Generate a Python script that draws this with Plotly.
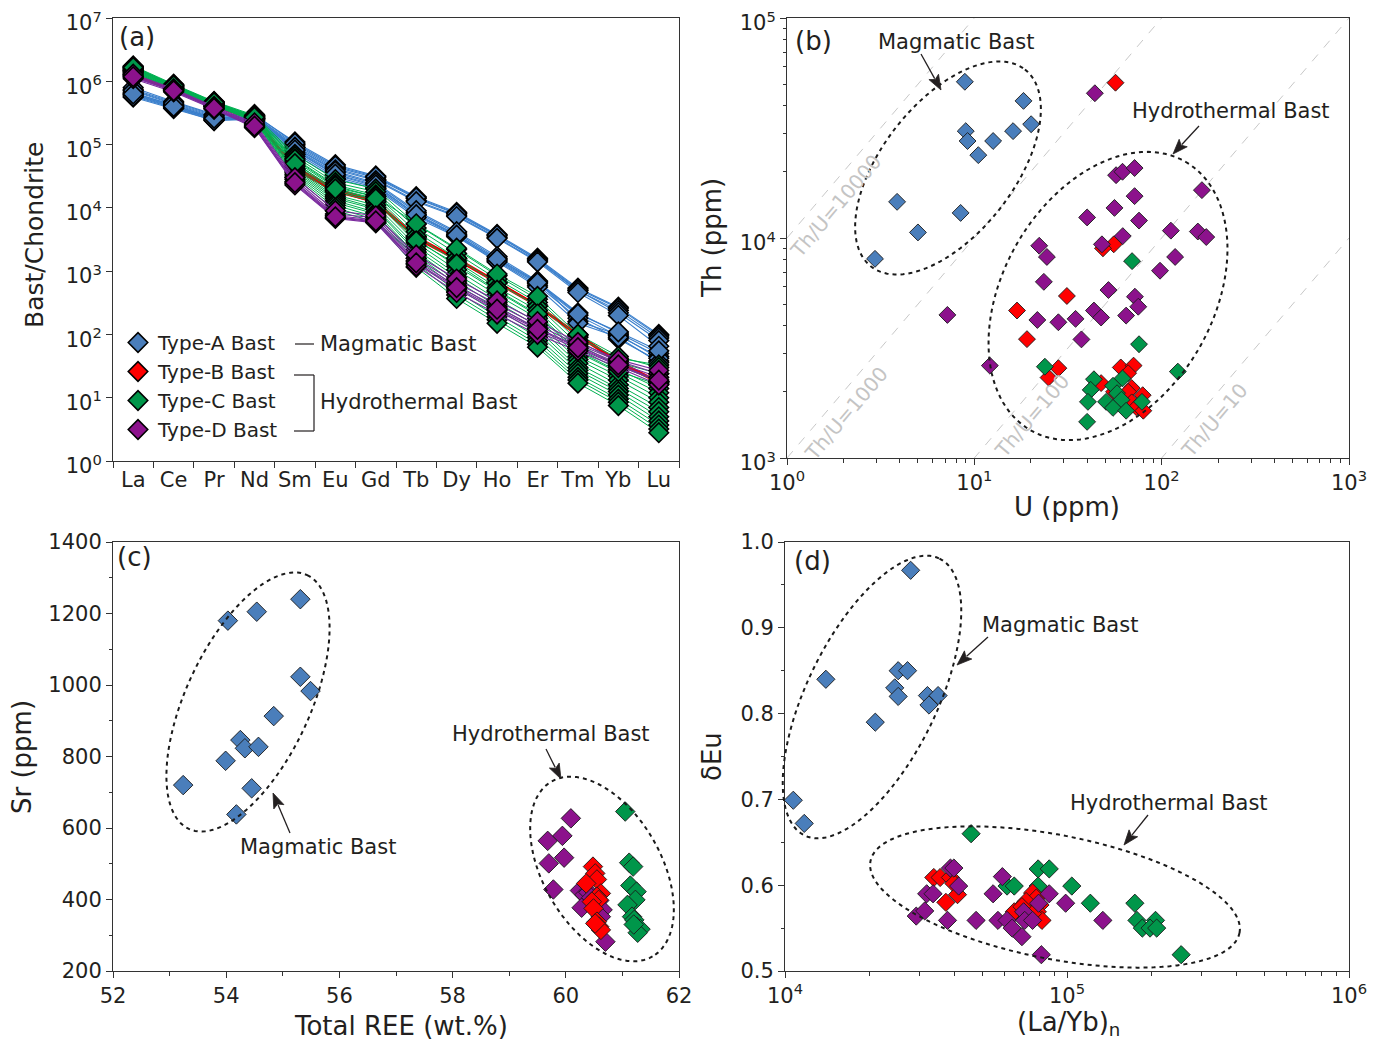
import numpy as np
import plotly.graph_objects as go

W, H = 1381, 1050          # browser window
OFF = 8                    # page body margin
FW, FH = W - 2 * OFF, H - 2 * OFF   # figure size
FONT = "DejaVu Sans, Liberation Sans, Arial, sans-serif"
TXT = "#231f20"
AX = "#333333"
TICK_FS = 21
ANN_FS = 21
TITLE_FS = 26

# ---------------- Panel (a): chondrite-normalised REE patterns ----------------
ELEMENTS = ["La", "Ce", "Pr", "Nd", "Sm", "Eu", "Gd", "Tb", "Dy", "Ho", "Er", "Tm", "Yb", "Lu"]

REE_A = [
    [7.5e5, 4.6e5, 2.9e5, 2.9e5, 1.1e5, 4.8e4, 3.2e4, 1.5e4, 8.5e3, 3.8e3, 1.6e3, 5.4e2, 2.7e2, 1.0e2],
    [7.0e5, 4.3e5, 2.7e5, 2.8e5, 1.0e5, 4.4e4, 3.0e4, 1.4e4, 8.0e3, 3.6e3, 1.55e3, 5.2e2, 2.6e2, 9.5e1],
    [6.6e5, 4.1e5, 2.6e5, 2.7e5, 9.5e4, 4.2e4, 2.8e4, 1.3e4, 7.6e3, 3.4e3, 1.45e3, 4.9e2, 2.4e2, 8.8e1],
    [8.0e5, 4.8e5, 3.0e5, 3.0e5, 1.05e5, 4.6e4, 3.1e4, 1.45e4, 8.2e3, 3.7e3, 1.5e3, 5.0e2, 2.2e2, 8.0e1],
    [6.2e5, 4.0e5, 2.5e5, 2.6e5, 9.0e4, 4.0e4, 2.7e4, 1.25e4, 7.3e3, 3.3e3, 1.4e3, 4.6e2, 2.0e2, 6.5e1],
    [6.5e5, 4.2e5, 2.6e5, 2.9e5, 8.5e4, 3.6e4, 2.4e4, 8.5e3, 4.0e3, 1.6e3, 6.8e2, 2.2e2, 1.05e2, 5.0e1],
    [6.0e5, 3.9e5, 2.5e5, 2.7e5, 8.0e4, 3.3e4, 2.2e4, 8.0e3, 3.8e3, 1.5e3, 6.4e2, 2.0e2, 9.5e1, 4.5e1],
    [5.6e5, 3.7e5, 2.4e5, 2.6e5, 7.5e4, 3.1e4, 2.1e4, 7.5e3, 3.6e3, 1.45e3, 6.0e2, 1.8e2, 8.5e1, 3.8e1],
    [7.2e5, 4.5e5, 2.8e5, 2.9e5, 9.0e4, 3.8e4, 2.5e4, 9.0e3, 4.2e3, 1.7e3, 7.0e2, 1.6e2, 1.0e2, 4.2e1],
    [5.8e5, 3.8e5, 2.4e5, 2.5e5, 7.0e4, 2.9e4, 2.0e4, 7.0e3, 3.5e3, 1.4e3, 5.6e2, 1.5e2, 9.0e1, 3.6e1],
    [6.3e5, 4.0e5, 2.6e5, 2.8e5, 8.2e4, 3.4e4, 2.3e4, 7.8e3, 3.7e3, 1.55e3, 6.6e2, 2.1e2, 1.1e2, 5.5e1],
]
REE_B = [
    [1.3e6, 7.5e5, 4.1e5, 2.6e5, 4.5e4, 2.0e4, 1.3e4, 3.5e3, 1.6e3, 6.8e2, 2.9e2, 1.0e2, 3.8e1, 1.8e1],
    [1.25e6, 7.2e5, 4.0e5, 2.5e5, 4.2e4, 1.9e4, 1.2e4, 3.3e3, 1.5e3, 6.5e2, 2.8e2, 9.5e1, 3.6e1, 1.7e1],
    [1.28e6, 7.4e5, 4.05e5, 2.55e5, 4.0e4, 1.8e4, 1.25e4, 3.4e3, 1.55e3, 6.6e2, 2.85e2, 9.8e1, 3.7e1, 1.75e1],
]
REE_C = [
    [1.75e6, 9.0e5, 4.8e5, 2.9e5, 7.0e4, 2.8e4, 2.0e4, 5.5e3, 2.2e3, 8.5e2, 3.6e2, 9.0e1, 4.2e1, 3.3e1],
    [1.7e6, 8.8e5, 4.7e5, 2.8e5, 6.5e4, 2.5e4, 1.8e4, 4.8e3, 1.9e3, 7.5e2, 3.2e2, 8.0e1, 3.6e1, 2.4e1],
    [1.65e6, 8.6e5, 4.6e5, 2.8e5, 6.0e4, 2.3e4, 1.6e4, 4.2e3, 1.6e3, 6.5e2, 2.8e2, 7.0e1, 3.2e1, 1.8e1],
    [1.6e6, 8.5e5, 4.6e5, 2.7e5, 5.5e4, 2.1e4, 1.5e4, 3.6e3, 1.4e3, 5.5e2, 2.4e2, 6.0e1, 2.8e1, 1.4e1],
    [1.6e6, 8.4e5, 4.5e5, 2.7e5, 5.2e4, 1.9e4, 1.35e4, 3.2e3, 1.2e3, 4.8e2, 2.0e2, 5.2e1, 2.5e1, 1.2e1],
    [1.55e6, 8.3e5, 4.5e5, 2.6e5, 4.8e4, 1.8e4, 1.25e4, 2.8e3, 1.05e3, 4.2e2, 1.8e2, 4.5e1, 2.2e1, 1.0e1],
    [1.55e6, 8.2e5, 4.4e5, 2.6e5, 4.5e4, 1.6e4, 1.1e4, 2.5e3, 9.0e2, 3.6e2, 1.55e2, 4.0e1, 1.9e1, 8.5],
    [1.5e6, 8.1e5, 4.4e5, 2.55e5, 4.2e4, 1.5e4, 1.0e4, 2.2e3, 8.0e2, 3.2e2, 1.35e2, 3.5e1, 1.6e1, 7.0],
    [1.5e6, 8.0e5, 4.3e5, 2.5e5, 4.0e4, 1.4e4, 9.5e3, 2.0e3, 7.0e2, 2.8e2, 1.2e2, 3.0e1, 1.4e1, 6.0],
    [1.45e6, 7.9e5, 4.3e5, 2.5e5, 3.8e4, 1.3e4, 8.5e3, 1.8e3, 6.2e2, 2.5e2, 1.05e2, 2.7e1, 1.25e1, 5.0],
    [1.45e6, 7.8e5, 4.2e5, 2.45e5, 3.6e4, 1.2e4, 8.0e3, 1.6e3, 5.5e2, 2.2e2, 9.0e1, 2.4e1, 1.1e1, 4.3],
    [1.4e6, 7.7e5, 4.2e5, 2.4e5, 3.4e4, 1.1e4, 7.2e3, 1.45e3, 4.8e2, 1.9e2, 8.0e1, 2.1e1, 9.5, 3.7],
    [1.4e6, 7.6e5, 4.1e5, 2.4e5, 3.2e4, 1.0e4, 6.5e3, 1.3e3, 4.2e2, 1.7e2, 7.0e1, 1.9e1, 8.5, 3.2],
    [1.35e6, 7.5e5, 4.1e5, 2.35e5, 3.0e4, 9.0e3, 6.0e3, 1.15e3, 3.7e2, 1.5e2, 6.3e1, 1.7e1, 7.5, 2.8],
    [1.7e6, 8.7e5, 4.7e5, 2.75e5, 5.8e4, 2.2e4, 1.5e4, 5.6e3, 2.3e3, 9.0e2, 4.0e2, 1.0e2, 4.5e1, 3.0e1],
    [1.65e6, 8.5e5, 4.6e5, 2.7e5, 5.0e4, 2.0e4, 1.4e4, 3.0e3, 1.3e3, 5.0e2, 2.1e2, 5.5e1, 2.6e1, 1.6e1],
]
REE_D = [
    [1.25e6, 7.4e5, 3.9e5, 2.1e5, 2.8e4, 8.0e3, 7.0e3, 1.6e3, 6.5e2, 3.0e2, 1.4e2, 7.0e1, 3.8e1, 2.4e1],
    [1.2e6, 7.2e5, 3.8e5, 2.0e5, 2.6e4, 7.5e3, 6.5e3, 1.45e3, 5.8e2, 2.7e2, 1.25e2, 6.5e1, 3.5e1, 2.1e1],
    [1.15e6, 7.0e5, 3.7e5, 1.9e5, 2.4e4, 7.0e3, 6.0e3, 1.3e3, 5.2e2, 2.4e2, 1.1e2, 6.0e1, 3.2e1, 1.8e1],
    [1.1e6, 6.8e5, 3.6e5, 1.85e5, 2.3e4, 6.8e3, 5.8e3, 1.2e3, 4.6e2, 2.1e2, 1.0e2, 5.5e1, 3.0e1, 1.6e1],
    [1.3e6, 7.6e5, 4.0e5, 2.2e5, 3.0e4, 9.0e3, 7.5e3, 1.8e3, 7.5e2, 3.4e2, 1.6e2, 7.5e1, 4.0e1, 2.7e1],
    [1.18e6, 7.1e5, 3.75e5, 1.95e5, 2.5e4, 7.2e3, 6.2e3, 1.35e3, 5.5e2, 2.5e2, 1.2e2, 6.2e1, 3.3e1, 1.9e1],
]

# ---------------- Panel (b): U vs Th (ppm) ----------------
U_A = [8.9, 18.3, 20.1, 16.1, 9.0, 9.2, 12.6, 10.5, 3.87, 8.45, 5.0, 2.95]
TH_A = [51300, 42000, 32900, 30600, 30600, 27600, 27600, 23800, 14600, 13000, 10600, 8040]
U_B = [56.7, 55.5, 48.6, 31.2, 16.9, 19.1, 24.9, 28.1, 60.5, 70.8, 66.2, 47.5, 69.2, 66.2, 55.7, 79.2, 69.2, 73.3, 79.8]
TH_B = [50800, 9360, 8980, 5450, 4680, 3470, 2320, 2560, 2580, 2630, 2430, 2190, 2080, 2000, 2000, 1930, 1790, 1700, 1640]
U_C = [69.5, 75.7, 23.8, 122, 43.5, 61.8, 41.8, 55, 57.8, 40.4, 50.5, 61, 55, 64.6, 78.5, 40]
TH_C = [7850, 3290, 2600, 2470, 2280, 2300, 2040, 2130, 1970, 1800, 1800, 1840, 1690, 1640, 1800, 1460]
U_D = [44, 57.1, 61.8, 71.7, 164, 71.7, 56, 40, 75.7, 62, 48, 112, 156, 173, 118, 98, 22.2, 24.4, 23.5,
       52, 72, 75, 43.5, 47.5, 64.6, 21.7, 28.1, 34.7, 37.3, 7.18, 12.1]
TH_D = [45500, 19300, 20000, 20800, 16500, 15500, 13700, 12400, 12000, 10200, 9360, 10800, 10700, 10100, 8200,
        7100, 9220, 8200, 6320, 5800, 5410, 4870, 4680, 4350, 4440, 4240, 4140, 4290, 3460, 4470, 2630]
THU_RATIOS = [10000, 1000, 100, 10]

# ---------------- Panel (c): Total REE vs Sr ----------------
REE_TOT_A = [55.31, 54.54, 54.03, 55.31, 55.49, 54.84, 54.25, 54.33, 54.57, 53.99, 53.24, 54.45, 54.18]
SR_A = [1240, 1205, 1180, 1023, 983, 913, 846, 823, 827, 788, 720, 711, 638]
REE_TOT_B = [60.48, 60.52, 60.55, 60.36, 60.62, 60.55, 60.58, 60.46, 60.49, 60.55, 60.59, 60.62, 60.52]
SR_B = [492, 473, 456, 445, 417, 408, 399, 394, 375, 338, 324, 315, 333]
REE_TOT_C = [61.05, 61.12, 61.19, 61.14, 61.25, 61.23, 61.09, 61.17, 61.21, 61.25, 61.32, 61.27, 61.20]
SR_C = [646, 503, 492, 439, 422, 399, 385, 352, 343, 324, 317, 307, 330]
REE_TOT_D = [60.09, 59.68, 59.94, 59.97, 59.70, 59.78, 60.25, 60.33, 60.28, 60.59, 60.65, 60.62, 60.70, 60.40, 60.45]
SR_D = [627, 564, 578, 517, 501, 428, 425, 413, 377, 397, 371, 352, 282, 420, 405]

# ---------------- Panel (d): (La/Yb)n vs dEu ----------------
LAYB_A = [27900, 13960, 25200, 27200, 24500, 25200, 32000, 34900, 32400, 20900, 10700, 11700]
DEU_A = [0.967, 0.840, 0.850, 0.850, 0.830, 0.820, 0.821, 0.821, 0.810, 0.790, 0.699, 0.672]
LAYB_B = [33700, 35500, 38600, 39700, 40900, 37200, 75500, 77800, 71600, 80200, 67000, 65000, 78500, 81500, 75500, 69200]
DEU_B = [0.609, 0.609, 0.609, 0.602, 0.589, 0.580, 0.591, 0.585, 0.581, 0.577, 0.571, 0.569, 0.569, 0.559, 0.567, 0.575]
LAYB_C = [45700, 79000, 86500, 61300, 65000, 79000, 104000, 121000, 174000, 177000, 206000, 185000, 197000, 208000, 254000]
DEU_C = [0.660, 0.619, 0.619, 0.599, 0.599, 0.599, 0.599, 0.579, 0.579, 0.559, 0.559, 0.550, 0.550, 0.550, 0.519]
LAYB_D = [38600, 39700, 41300, 31800, 33500, 29200, 31300, 37700, 47600, 54700, 59000, 56900, 61300, 63900, 69200,
          70200, 70800, 75500, 79300, 86500, 98900, 134000, 81100]
DEU_D = [0.620, 0.620, 0.599, 0.590, 0.590, 0.564, 0.570, 0.559, 0.559, 0.590, 0.610, 0.559, 0.559, 0.550, 0.540,
         0.569, 0.559, 0.559, 0.579, 0.590, 0.579, 0.559, 0.519]

TYPE_NAMES = {"A": "Type-A Bast", "B": "Type-B Bast", "C": "Type-C Bast", "D": "Type-D Bast"}
FILL = {"A": "#4a7ebb", "B": "#ff0000", "C": "#00964a", "D": "#8c128c"}
LINE = {"A": "#3a7fcc", "B": "#e00000", "C": "#00b050", "D": "#7b2a9e"}


def P(x, y):
    """window pixel -> paper"""
    return (x - OFF) / FW, 1 - (y - OFF) / FH


def ellipse_path(cx, cy, a, b, phi_deg, n=120):
    t = np.linspace(0, 2 * np.pi, n, endpoint=False)
    ph = np.radians(phi_deg)
    xs = cx + a * np.cos(t) * np.cos(ph) - b * np.sin(t) * np.sin(ph)
    ys = cy + a * np.cos(t) * np.sin(ph) + b * np.sin(t) * np.cos(ph)
    pts = [P(x, y) for x, y in zip(xs, ys)]
    return "M " + " L ".join(f"{px:.5f},{py:.5f}" for px, py in pts) + " Z"


fig = go.Figure()

# ---- panel (a) ----
for key, rows, lw in [("A", REE_A, 1.1), ("B", REE_B, 2.0), ("C", REE_C, 1.0), ("D", REE_D, 1.1)]:
    xs, ys = [], []
    for r in rows:
        xs += ELEMENTS + [None]
        ys += list(r) + [None]
    fig.add_trace(go.Scatter(
        x=xs, y=ys, mode="lines+markers", xaxis="x", yaxis="y", showlegend=False,
        line=dict(color=LINE[key], width=lw),
        marker=dict(symbol="diamond", size=15, color=FILL[key], line=dict(color="black", width=1.6)),
        connectgaps=False, hoverinfo="skip"))

# legend-only entries
for i, key in enumerate(["A", "B", "C", "D"]):
    fig.add_trace(go.Scatter(
        x=[None], y=[None], mode="markers", xaxis="x", yaxis="y", name=TYPE_NAMES[key],
        legendgroup=key, legendrank=i + 1, showlegend=True,
        marker=dict(symbol="diamond", size=15, color=FILL[key], line=dict(color="black", width=1.6))))

# ---- panel (b) ----
for r in THU_RATIOS:
    fig.add_trace(go.Scatter(x=[1, 1000], y=[r * 1, r * 1000], mode="lines", xaxis="x2", yaxis="y2",
                             showlegend=False, line=dict(color="#c8c8c8", width=1, dash="dash"), hoverinfo="skip"))


def scatter(xv, yv, key, xa, ya, size):
    fig.add_trace(go.Scatter(
        x=xv, y=yv, mode="markers", xaxis=xa, yaxis=ya, showlegend=False,
        marker=dict(symbol="diamond", size=size, color=FILL[key], line=dict(color="#1a1a1a", width=0.9))))


scatter(U_A, TH_A, "A", "x2", "y2", 13)
scatter(U_B, TH_B, "B", "x2", "y2", 13)
scatter(U_D, TH_D, "D", "x2", "y2", 13)
scatter(U_C, TH_C, "C", "x2", "y2", 13)

# ---- panel (c) ----
scatter(REE_TOT_A, SR_A, "A", "x3", "y3", 15)
scatter(REE_TOT_D, SR_D, "D", "x3", "y3", 15)
scatter(REE_TOT_B, SR_B, "B", "x3", "y3", 15)
scatter(REE_TOT_C, SR_C, "C", "x3", "y3", 15)

# ---- panel (d) ----
scatter(LAYB_A, DEU_A, "A", "x4", "y4", 14)
scatter(LAYB_C, DEU_C, "C", "x4", "y4", 14)
scatter(LAYB_B, DEU_B, "B", "x4", "y4", 14)
scatter(LAYB_D, DEU_D, "D", "x4", "y4", 14)

# ---------------- axes ----------------
common = dict(showline=True, linecolor=AX, linewidth=1, mirror=True, ticks="outside", ticklen=6,
              tickcolor=AX, tickwidth=1, showgrid=False, zeroline=False, automargin=False,
              ticklabeloverflow="allow", tickangle=0,
              tickfont=dict(family=FONT, size=TICK_FS, color=TXT))


def sup_ticks(lo, hi):
    return [10 ** k for k in range(lo, hi + 1)], [f"10<sup>{k}</sup>" for k in range(lo, hi + 1)]


def minor_log(lo, hi):
    return [m * 10 ** k for k in range(lo, hi) for m in range(2, 10)]


def dom_x(x0, x1):
    return [(x0 - OFF) / FW, (x1 - OFF) / FW]


def dom_y(ytop, ybot):
    return [1 - (ybot - OFF) / FH, 1 - (ytop - OFF) / FH]


ya_v, ya_t = sup_ticks(0, 7)
xb_v, xb_t = sup_ticks(0, 3)
yb_v, yb_t = sup_ticks(3, 5)
xd_v, xd_t = sup_ticks(4, 6)
minor_style = dict(ticks="outside", ticklen=3.5, tickcolor=AX, showgrid=False)

fig.update_layout(
    template="none",
    xaxis=dict(common, domain=dom_x(113, 679), anchor="y", type="category",
               categoryorder="array", categoryarray=ELEMENTS, range=[-0.5, 13.5], tickson="boundaries"),
    yaxis=dict(common, domain=dom_y(18, 461), anchor="x", type="log", range=[0, 7],
               tickmode="array", tickvals=ya_v, ticktext=ya_t, ticklabelshift=5),
    xaxis2=dict(common, domain=dom_x(787, 1349), anchor="y2", type="log", range=[0, 3],
                tickmode="array", tickvals=xb_v, ticktext=xb_t,
                minor=dict(minor_style, tickmode="array", tickvals=minor_log(0, 3))),
    yaxis2=dict(common, domain=dom_y(18, 458), anchor="x2", type="log", range=[3, 5],
                tickmode="array", tickvals=yb_v, ticktext=yb_t, ticklabelshift=5,
                minor=dict(minor_style, tickmode="array", tickvals=minor_log(3, 5))),
    xaxis3=dict(common, domain=dom_x(113, 679), anchor="y3", range=[52, 62], dtick=2, tick0=52,
                minor=dict(minor_style, dtick=1)),
    yaxis3=dict(common, domain=dom_y(542, 971), anchor="x3", range=[200, 1400], dtick=200, tick0=200,
                minor=dict(minor_style, dtick=100)),
    xaxis4=dict(common, domain=dom_x(785, 1349), anchor="y4", type="log", range=[4, 6],
                tickmode="array", tickvals=xd_v, ticktext=xd_t,
                minor=dict(minor_style, tickmode="array", tickvals=minor_log(4, 6))),
    yaxis4=dict(common, domain=dom_y(542, 971), anchor="x4", range=[0.5, 1.0], dtick=0.1, tick0=0.5,
                tickformat=".1f", minor=dict(minor_style, dtick=0.05)),
)

# ---------------- shapes: ellipses, bracket, arrows ----------------
shapes = []
dot = dict(color="#1a1a1a", width=2, dash="4px,4px")
for (cx, cy, a, b, ph) in [(948, 168, 125, 66, -52), (1108, 296, 155, 105, -60),
                           (248, 702, 140, 62, -65), (602, 869, 101, 59, 60),
                           (872, 697, 154, 65, -64), (1055, 897, 188, 62, 11)]:
    shapes.append(dict(type="path", xref="paper", yref="paper", path=ellipse_path(cx, cy, a, b, ph), line=dot))


def seg(x0, y0, x1, y1, w=1.2):
    p0, p1 = P(x0, y0), P(x1, y1)
    return dict(type="line", xref="paper", yref="paper", x0=p0[0], y0=p0[1], x1=p1[0], y1=p1[1],
                line=dict(color=TXT, width=w))


def arrow(tx, ty, hx, hy, hl=15, hw=5.5):
    d = np.hypot(hx - tx, hy - ty)
    ux, uy = (hx - tx) / d, (hy - ty) / d
    bx, by = hx - ux * hl, hy - uy * hl
    shapes.append(seg(tx, ty, bx + ux * 2, by + uy * 2, 1.3))
    pts = [(hx, hy), (bx - uy * hw, by + ux * hw), (bx + ux * 3, by + uy * 3), (bx + uy * hw, by - ux * hw)]
    pp = [P(x, y) for x, y in pts]
    path = "M " + " L ".join(f"{a:.5f},{b:.5f}" for a, b in pp) + " Z"
    shapes.append(dict(type="path", xref="paper", yref="paper", path=path, fillcolor=TXT,
                       line=dict(color=TXT, width=0.8)))


shapes += [seg(295, 344, 314, 344), seg(294, 375, 314, 375), seg(314, 375, 314, 431), seg(294, 431, 314, 431)]
arrow(921, 54, 941, 90)
arrow(1199, 126, 1173, 154)
arrow(546, 749, 561, 779)
arrow(290, 833, 273, 793)
arrow(988, 637, 957, 665)
arrow(1148, 815, 1124, 845)
fig.update_layout(shapes=shapes)

# ---------------- annotations ----------------
ann = []


def text(x, y, s, size=ANN_FS, angle=0, xanchor="center", color=TXT):
    px, py = P(x, y)
    ann.append(dict(x=px, y=py, xref="paper", yref="paper", text=s, showarrow=False, textangle=angle,
                    xanchor=xanchor, yanchor="middle", font=dict(family=FONT, size=size, color=color)))


# panel labels
text(137, 37, "(a)", 26)
text(813, 41, "(b)", 26)
text(134, 557, "(c)", 26)
text(812, 561, "(d)", 26)

# (a)
text(318, 344, "Magmatic Bast", ANN_FS, xanchor="left")
text(318, 402, "Hydrothermal Bast", ANN_FS, xanchor="left")
text(35, 235, "Bast/Chondrite", 25, angle=-90)

# (b)
text(956, 42, "Magmatic Bast")
text(1231, 111, "Hydrothermal Bast")
text(712, 238, "Th (ppm)", TITLE_FS, angle=-90)
text(1067, 507, "U (ppm)", TITLE_FS)
for (x, y, s) in [(836, 206, "Th/U=10000"), (846, 414, "Th/U=1000"), (1032, 416, "Th/U=100"), (1214, 421, "Th/U=10")]:
    text(x, y, s, 20, angle=-49.6, color="#c4c4c4")

# (c)
text(551, 734, "Hydrothermal Bast")
text(318, 847, "Magmatic Bast")
text(22, 757, "Sr (ppm)", TITLE_FS, angle=-90)
text(401, 1026, "Total REE (wt.%)", TITLE_FS)

# (d)
text(1060, 625, "Magmatic Bast")
text(1169, 803, "Hydrothermal Bast")
text(712, 757, "δEu", TITLE_FS, angle=-90)
text(1068, 1024, "(La/Yb)<sub>n</sub>", TITLE_FS)

fig.update_layout(annotations=ann)

lx, ly = P(118, 323)
fig.update_layout(
    width=FW, height=FH, margin=dict(l=0, r=0, t=0, b=0, pad=0),
    paper_bgcolor="white", plot_bgcolor="white",
    font=dict(family=FONT, size=20, color=TXT),
    showlegend=True,
    legend=dict(x=lx, y=ly, xanchor="left", yanchor="top", bgcolor="rgba(0,0,0,0)",
                font=dict(family=FONT, size=20, color=TXT), tracegroupgap=3, itemwidth=30,
                traceorder="normal"),
)

fig.write_html("out.html")
